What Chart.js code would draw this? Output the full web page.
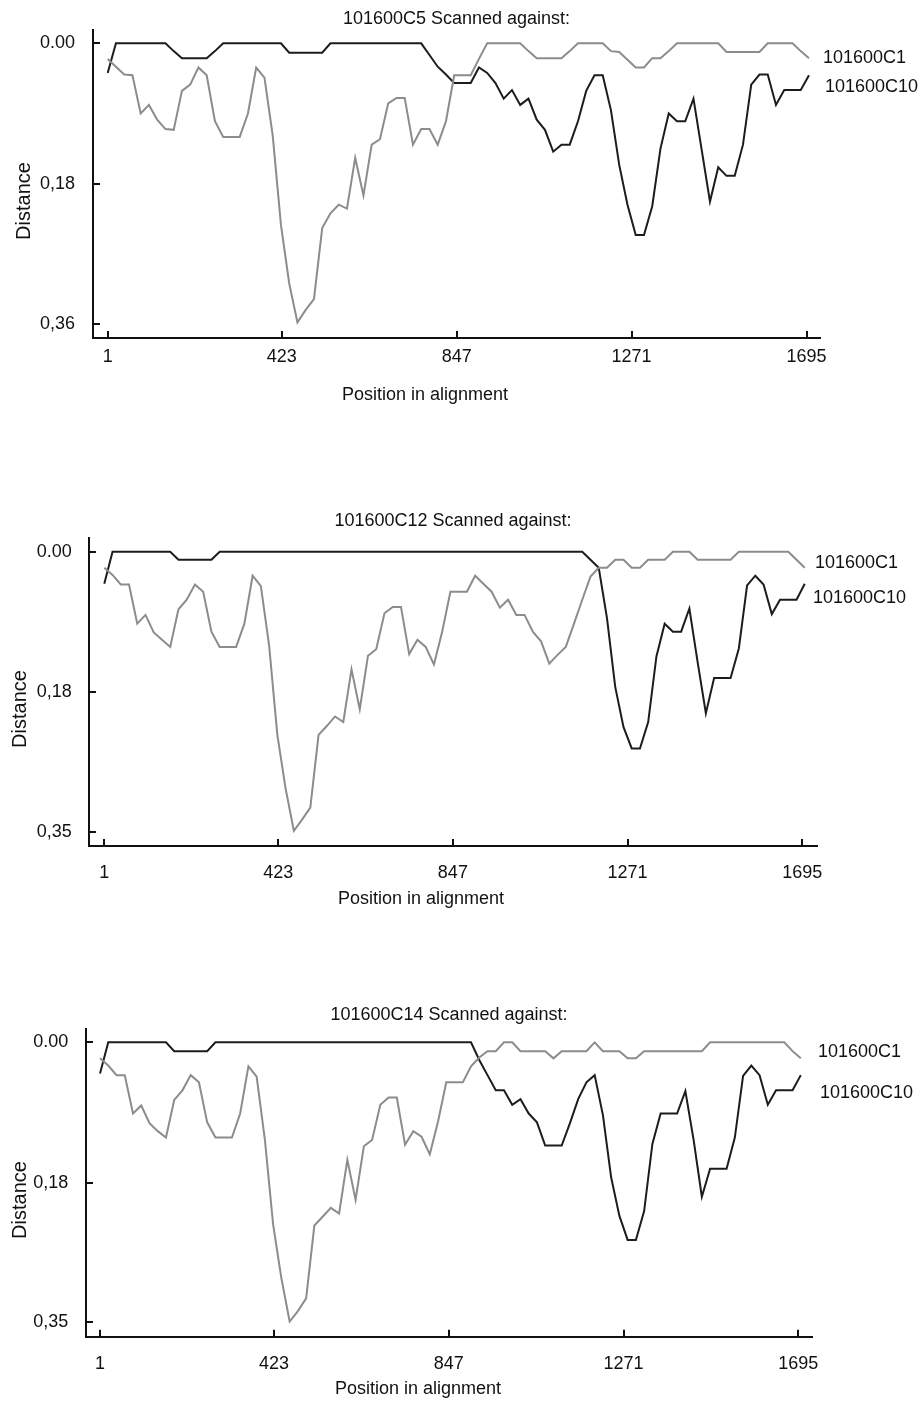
<!DOCTYPE html>
<html>
<head>
<meta charset="utf-8">
<title>Bootscan distance plots</title>
<script src="https://cdn.jsdelivr.net/npm/chart.js@4.4.1/dist/chart.umd.min.js"></script>
<style>
  body { margin: 0; background: #fff; }
  #wrap { position: relative; width: 920px; height: 1403px; }
  #wrap canvas { position: absolute; left: 0; }
</style>
</head>
<body>
<div id="wrap">
  <canvas id="scanC5" width="920" height="420" style="top:0px"></canvas>
  <canvas id="scanC12" width="920" height="420" style="top:495px"></canvas>
  <canvas id="scanC14" width="920" height="413" style="top:990px"></canvas>
</div>
<script>
// window centres along the alignment (step 20)
const positions = [
  1, 21, 41, 61, 81, 101, 121, 141, 161, 181,
  201, 221, 241, 261, 281, 301, 321, 341, 361, 381,
  401, 421, 441, 461, 481, 501, 521, 541, 561, 581,
  601, 621, 641, 661, 681, 701, 721, 741, 761, 781,
  801, 821, 841, 861, 881, 901, 921, 941, 961, 981,
  1001, 1021, 1041, 1061, 1081, 1101, 1121, 1141, 1161, 1181,
  1201, 1221, 1241, 1261, 1281, 1301, 1321, 1341, 1361, 1381,
  1401, 1421, 1441, 1461, 1481, 1501, 1521, 1541, 1561, 1581,
  1601, 1621, 1641, 1661, 1681, 1701
];

const xTickValues = [1, 423, 847, 1271, 1695];
const xTickLabels = ['1', '423', '847', '1271', '1695'];
const seriesNames = ['101600C1', '101600C10'];

// 101600C5 scanned against C1 / C10
const c5vsC1 = [
  0.020, 0.030, 0.040, 0.041, 0.090, 0.079, 0.098, 0.110, 0.111, 0.061,
  0.053, 0.031, 0.041, 0.100, 0.120, 0.120, 0.120, 0.090, 0.031, 0.044,
  0.118, 0.233, 0.308, 0.358, 0.342, 0.328, 0.237, 0.218, 0.207, 0.212,
  0.147, 0.195, 0.130, 0.123, 0.077, 0.070, 0.070, 0.130, 0.110, 0.110,
  0.130, 0.100, 0.041, 0.041, 0.041, 0.020, 0, 0, 0, 0,
  0, 0.010, 0.019, 0.019, 0.019, 0.019, 0.010, 0, 0, 0,
  0, 0.010, 0.011, 0.021, 0.031, 0.031, 0.019, 0.019, 0.010, 0,
  0, 0, 0, 0, 0, 0.011, 0.011, 0.011, 0.011, 0.011,
  0, 0, 0, 0, 0.010, 0.019
];
const c5vsC10 = [
  0.038, 0, 0, 0, 0, 0, 0, 0, 0.010, 0.019,
  0.019, 0.019, 0.019, 0.010, 0, 0, 0, 0, 0, 0,
  0, 0, 0.012, 0.012, 0.012, 0.012, 0.012, 0, 0, 0,
  0, 0, 0, 0, 0, 0, 0, 0, 0, 0.015,
  0.030, 0.040, 0.051, 0.051, 0.051, 0.031, 0.038, 0.051, 0.071, 0.060,
  0.079, 0.071, 0.098, 0.111, 0.139, 0.130, 0.130, 0.100, 0.061, 0.041,
  0.041, 0.086, 0.156, 0.207, 0.246, 0.246, 0.209, 0.135, 0.090, 0.100,
  0.100, 0.071, 0.137, 0.203, 0.159, 0.170, 0.170, 0.130, 0.053, 0.040,
  0.040, 0.079, 0.060, 0.060, 0.060, 0.041
];

// 101600C12 scanned against C1 / C10
const c12vsC1 = [
  0.020, 0.029, 0.041, 0.041, 0.090, 0.079, 0.101, 0.110, 0.119, 0.072,
  0.060, 0.041, 0.050, 0.100, 0.119, 0.119, 0.119, 0.090, 0.030, 0.043,
  0.117, 0.229, 0.296, 0.349, 0.335, 0.320, 0.229, 0.218, 0.206, 0.213,
  0.147, 0.197, 0.130, 0.122, 0.077, 0.069, 0.069, 0.128, 0.110, 0.119,
  0.141, 0.100, 0.050, 0.050, 0.050, 0.030, 0.040, 0.050, 0.070, 0.060,
  0.079, 0.079, 0.100, 0.112, 0.140, 0.129, 0.119, 0.090, 0.060, 0.031,
  0.020, 0.020, 0.010, 0.010, 0.020, 0.020, 0.010, 0.010, 0.010, 0,
  0, 0, 0.010, 0.010, 0.010, 0.010, 0.010, 0, 0, 0,
  0, 0, 0, 0, 0.010, 0.020
];
const c12vsC10 = [
  0.040, 0, 0, 0, 0, 0, 0, 0, 0, 0.010,
  0.010, 0.010, 0.010, 0.010, 0, 0, 0, 0, 0, 0,
  0, 0, 0, 0, 0, 0, 0, 0, 0, 0,
  0, 0, 0, 0, 0, 0, 0, 0, 0, 0,
  0, 0, 0, 0, 0, 0, 0, 0, 0, 0,
  0, 0, 0, 0, 0, 0, 0, 0, 0, 0.010,
  0.020, 0.083, 0.169, 0.219, 0.246, 0.246, 0.213, 0.131, 0.090, 0.100,
  0.100, 0.071, 0.138, 0.202, 0.158, 0.158, 0.158, 0.121, 0.042, 0.030,
  0.041, 0.078, 0.060, 0.060, 0.060, 0.040
];

// 101600C14 scanned against C1 / C10
const c14vsC1 = [
  0.020, 0.029, 0.041, 0.041, 0.089, 0.079, 0.101, 0.111, 0.119, 0.072,
  0.060, 0.041, 0.050, 0.100, 0.119, 0.119, 0.119, 0.089, 0.030, 0.043,
  0.122, 0.228, 0.295, 0.349, 0.336, 0.320, 0.229, 0.218, 0.207, 0.214,
  0.147, 0.197, 0.130, 0.122, 0.078, 0.069, 0.069, 0.128, 0.111, 0.118,
  0.140, 0.099, 0.050, 0.050, 0.050, 0.030, 0.019, 0.011, 0.011, 0,
  0, 0.011, 0.011, 0.011, 0.011, 0.020, 0.011, 0.011, 0.011, 0.011,
  0, 0.011, 0.011, 0.011, 0.020, 0.020, 0.011, 0.011, 0.011, 0.011,
  0.011, 0.011, 0.011, 0.011, 0, 0, 0, 0, 0, 0,
  0, 0, 0, 0, 0.011, 0.020
];
const c14vsC10 = [
  0.039, 0, 0, 0, 0, 0, 0, 0, 0, 0.011,
  0.011, 0.011, 0.011, 0.011, 0, 0, 0, 0, 0, 0,
  0, 0, 0, 0, 0, 0, 0, 0, 0, 0,
  0, 0, 0, 0, 0, 0, 0, 0, 0, 0,
  0, 0, 0, 0, 0, 0, 0.022, 0.041, 0.060, 0.060,
  0.078, 0.071, 0.089, 0.100, 0.129, 0.129, 0.129, 0.101, 0.071, 0.050,
  0.041, 0.091, 0.169, 0.217, 0.247, 0.247, 0.211, 0.127, 0.089, 0.089,
  0.089, 0.061, 0.122, 0.193, 0.158, 0.158, 0.158, 0.119, 0.042, 0.029,
  0.041, 0.078, 0.060, 0.060, 0.060, 0.041
];

const yTicksC5 = [0, 0.18, 0.36];
const yLabelsC5 = ['0.00', '0,18', '0,36'];
const yTicksC12 = [0, 0.176, 0.35];
const yLabelsC12 = ['0.00', '0,18', '0,35'];

const xTitle = 'Position in alignment';
const yTitle = 'Distance';

const FONT = '"Liberation Sans", Arial, Helvetica, sans-serif';
Chart.defaults.font.family = FONT;
Chart.defaults.font.size = 18;
Chart.defaults.color = '#111';

// series names at the right of the plot, and the two axis captions
// (the captions sit off-centre in the original, so they are placed by hand)
const panelText = {
  id: 'panelText',
  afterDraw(chart, args, opts) {
    const ctx = chart.ctx;
    ctx.save();
    ctx.font = '18px ' + FONT;
    ctx.fillStyle = '#111';
    ctx.textBaseline = 'middle';
    ctx.textAlign = 'left';
    chart.data.datasets.forEach((ds, i) => {
      ctx.fillText(ds.label, opts.spots[i].x, opts.spots[i].y);
    });
    ctx.textAlign = 'center';
    ctx.fillText(xTitle, opts.xTitleAt.x, opts.xTitleAt.y);
    ctx.font = '20px ' + FONT;
    ctx.translate(opts.yTitleAt.x, opts.yTitleAt.y);
    ctx.rotate(-Math.PI / 2);
    ctx.fillText(yTitle, 0, 0);
    ctx.restore();
  }
};

function makeScan(canvasId, query, vsC1, vsC10, yTicks, yLabels, lay) {
  const axisGrid = { drawOnChartArea: false, drawTicks: true, tickLength: -7, color: '#111', lineWidth: 2 };
  const axisBorder = { display: true, color: '#111', width: 2 };

  return new Chart(document.getElementById(canvasId), {
    type: 'line',
    data: {
      datasets: [
        {
          label: seriesNames[0],
          data: positions.map((p, i) => ({ x: p, y: vsC1[i] })),
          borderColor: '#8c8c8c',
          borderWidth: 2,
          pointRadius: 0,
          tension: 0
        },
        {
          label: seriesNames[1],
          data: positions.map((p, i) => ({ x: p, y: vsC10[i] })),
          borderColor: '#1c1c1c',
          borderWidth: 2,
          pointRadius: 0,
          tension: 0
        }
      ]
    },
    options: {
      responsive: false,
      animation: false,
      devicePixelRatio: 1,
      layout: { padding: { left: 0, top: 0, bottom: 0, right: 920 - lay.right } },
      plugins: {
        legend: { display: false },
        tooltip: { enabled: false },
        title: {
          display: true,
          fullSize: false,
          text: query + ' Scanned against:',
          font: { size: 18, weight: 'normal' },
          color: '#111',
          padding: lay.titlePad
        },
        panelText: { spots: lay.spots, xTitleAt: lay.xTitleAt, yTitleAt: lay.yTitleAt }
      },
      scales: {
        x: {
          type: 'linear',
          min: lay.xMin,
          max: lay.xMax,
          afterBuildTicks: s => { s.ticks = xTickValues.map(v => ({ value: v })); },
          afterFit: s => { s.height = lay.xAxisHeight; s.paddingLeft = 0; s.paddingRight = 0; },
          ticks: { padding: lay.xTickPad, maxRotation: 0, autoSkip: false, callback: (v, i) => xTickLabels[i] },
          grid: axisGrid,
          border: axisBorder
        },
        y: {
          type: 'linear',
          reverse: true,
          min: lay.yMin,
          max: lay.yMax,
          afterBuildTicks: s => { s.ticks = yTicks.map(v => ({ value: v })); },
          afterFit: s => { s.width = lay.left; s.paddingTop = 0; s.paddingBottom = 0; },
          ticks: { padding: lay.yTickPad, autoSkip: false, callback: (v, i) => yLabels[i] },
          grid: axisGrid,
          border: axisBorder
        }
      }
    },
    plugins: [panelText]
  });
}

makeScan('scanC5', '101600C5', c5vsC1, c5vsC10, yTicksC5, yLabelsC5, {
  left: 93, right: 820, xAxisHeight: 82,
  xMin: -34.6, xMax: 1727.7, yMin: -0.0171, yMax: 0.378,
  titlePad: { top: 8, bottom: 0.4 },
  xTickPad: 15, yTickPad: 25,
  xTitleAt: { x: 425, y: 395 }, yTitleAt: { x: 24, y: 201 },
  spots: [{ x: 823, y: 58 }, { x: 825, y: 87 }]
});

makeScan('scanC12', '101600C12', c12vsC1, c12vsC10, yTicksC12, yLabelsC12, {
  left: 89, right: 817, xAxisHeight: 69,
  xMin: -36.1, xMax: 1730.7, yMin: -0.0168, yMax: 0.368,
  titlePad: { top: 15.2, bottom: 6.5 },
  xTickPad: 23.2, yTickPad: 24.3,
  xTitleAt: { x: 421, y: 404 }, yTitleAt: { x: 20, y: 214 },
  spots: [{ x: 815, y: 68 }, { x: 813, y: 103 }]
});

makeScan('scanC14', '101600C14', c14vsC1, c14vsC10, yTicksC12, yLabelsC12, {
  left: 86, right: 812, xAxisHeight: 66.3,
  xMin: -33, xMax: 1728.2, yMin: -0.0163, yMax: 0.368,
  titlePad: { top: 14.2, bottom: 3.5 },
  xTickPad: 23.5, yTickPad: 24.7,
  xTitleAt: { x: 418, y: 399 }, yTitleAt: { x: 20, y: 210 },
  spots: [{ x: 818, y: 62 }, { x: 820, y: 103 }]
});
</script>
</body>
</html>
